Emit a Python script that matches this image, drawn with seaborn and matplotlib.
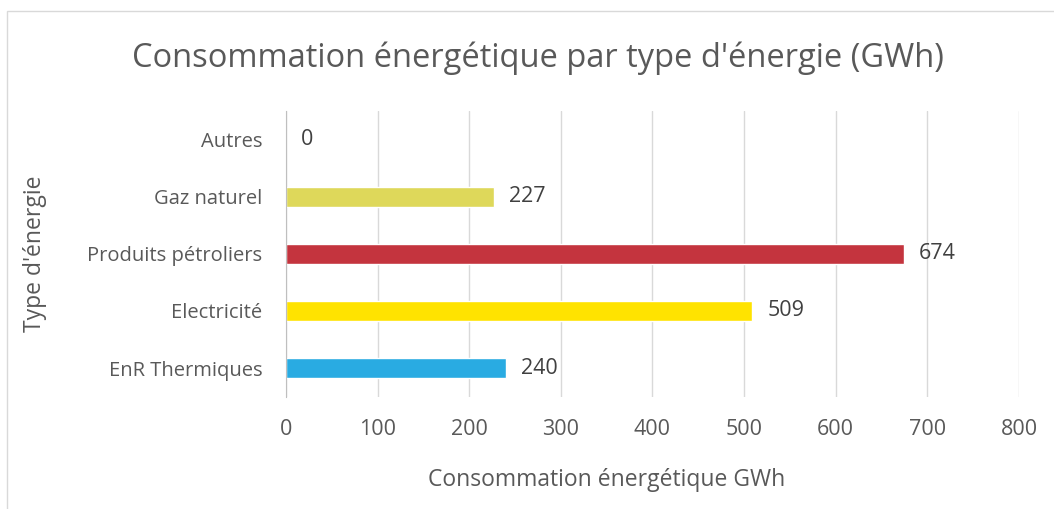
import matplotlib
matplotlib.use("Agg")
import matplotlib.pyplot as plt
import seaborn as sns
import pandas as pd
from matplotlib.patches import Rectangle

# ---- data ----
categories = ["Autres", "Gaz naturel", "Produits pétroliers", "Electricité", "EnR Thermiques"]
values = [0, 227, 674, 509, 240]
colors = ["#A5A5A5", "#DED85A", "#C4343E", "#FFE300", "#29ABE2"]
x_ticks = [0, 100, 200, 300, 400, 500, 600, 700, 800]

df = pd.DataFrame({"type": categories, "gwh": values})

sns.set_style("white")
plt.rcParams["font.family"] = ["Open Sans", "DejaVu Sans"]

fig = plt.figure(figsize=(10.54, 5.09), dpi=100)
ax = fig.add_axes([0.2713, 0.221, 0.6955, 0.560])

sns.barplot(data=df, x="gwh", y="type", hue="type", palette=colors,
            order=categories, hue_order=categories, legend=False,
            width=0.35, ax=ax, saturation=1)

grey = "#595959"
ax.set_xlim(0, 800)
ax.set_ylim(len(categories) - 0.5, -0.5)
ax.set_xticks(x_ticks)
ax.grid(axis="x", color="#D9D9D9", linewidth=1)
ax.set_axisbelow(True)
for s in ["top", "right", "bottom"]:
    ax.spines[s].set_visible(False)
ax.spines["left"].set_color("#BFBFBF")
ax.tick_params(axis="both", length=0, labelsize=14.5, colors=grey)
ax.tick_params(axis="x", labelsize=15.5, pad=16)
ax.tick_params(axis="y", pad=17)

# data labels
for i, v in enumerate(values):
    ax.annotate(str(v), xy=(v, i), xytext=(11, 0), textcoords="offset points",
                va="center", ha="left", fontsize=15.5, color="#404040")

ax.set_xlabel("Consommation énergétique GWh", fontsize=16.5, color=grey)
ax.set_ylabel("Type d'énergie", fontsize=16.5, color=grey)
ax.xaxis.set_label_coords(0.438, -0.293)
ax.yaxis.set_label_coords(-0.342, 0.5)
ax.xaxis.label.set_va("center")
ax.yaxis.label.set_va("center")

fig.text(0.51, 0.886, "Consommation énergétique par type d'énergie (GWh)",
         fontsize=23.5, color=grey, ha="center", va="center")

# chart border
fig.patches.append(Rectangle((7 / 1054, -0.1), 1.2, 1 - 11 / 509 + 0.1,
                             transform=fig.transFigure, fill=False,
                             edgecolor="#D9D9D9", linewidth=1))

fig.savefig("out.png", dpi=100)
